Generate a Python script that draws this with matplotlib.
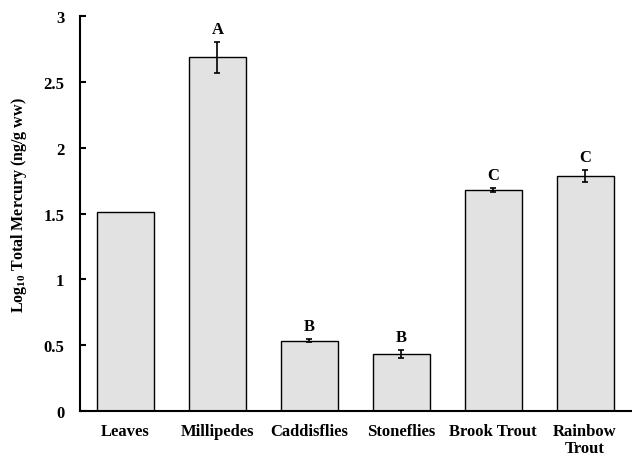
import matplotlib
matplotlib.use("Agg")
import matplotlib.pyplot as plt
import numpy as np

categories = ["Leaves", "Millipedes", "Caddisflies", "Stoneflies", "Brook Trout", "Rainbow\nTrout"]
values = [1.512, 2.685, 0.535, 0.432, 1.680, 1.785]
errors = [0.0, 0.12, 0.012, 0.028, 0.015, 0.045]
letters = ["", "A", "B", "B", "C", "C"]

plt.rcParams['font.family'] = ['Liberation Serif', 'DejaVu Serif']
plt.rcParams['font.weight'] = 'bold'
plt.rcParams['mathtext.fontset'] = 'custom'
plt.rcParams['mathtext.rm'] = 'Liberation Serif'
plt.rcParams['mathtext.bf'] = 'Liberation Serif:bold'
plt.rcParams['mathtext.default'] = 'rm'

fig = plt.figure(figsize=(6.32, 4.56), dpi=100)
ax = fig.add_axes([79.5/632, 1-412/456, (631-79.5)/632, (412-17)/456])

x = np.arange(len(categories))
ax.bar(x, values, width=0.62, color='#e2e2e2', edgecolor='black', linewidth=1.0, zorder=2)
for xi, v, e in zip(x, values, errors):
    if e > 0:
        ax.errorbar(xi, v, yerr=e, fmt='none', ecolor='black', elinewidth=1.2,
                    capsize=2.5, capthick=1.2, zorder=3)
for xi, v, e, L in zip(x, values, errors, letters):
    if L:
        ax.annotate(L, (xi, v + e), xytext=(0, 6.5), textcoords='offset points',
                    ha='center', va='baseline', fontsize=12, fontweight='bold')

ax.set_xlim(-0.5, len(categories) - 0.5)
ax.set_ylim(0, 3)
ax.set_yticks([0, 0.5, 1, 1.5, 2, 2.5, 3])
ax.set_yticklabels(["0", "0.5", "1", "1.5", "2", "2.5", "3"])
ax.set_xticks(x)
ax.set_xticklabels(categories, linespacing=1.05)

ax.spines['top'].set_visible(False)
ax.spines['right'].set_visible(False)
ax.spines['left'].set_linewidth(1.5)
ax.spines['bottom'].set_linewidth(1.5)

ax.tick_params(axis='y', direction='in', length=4, width=1.5, pad=11, labelsize=12)
ax.tick_params(axis='x', length=0, pad=9, labelsize=12)
for lab in ax.get_xticklabels() + ax.get_yticklabels():
    lab.set_fontweight('bold')

ax.set_ylabel("Log$_{10}$ Total Mercury (ng/g ww)", fontsize=11.5, fontweight='bold')
ax.yaxis.set_label_coords(-0.091, 0.524)

fig.savefig("out.png", dpi=100)
